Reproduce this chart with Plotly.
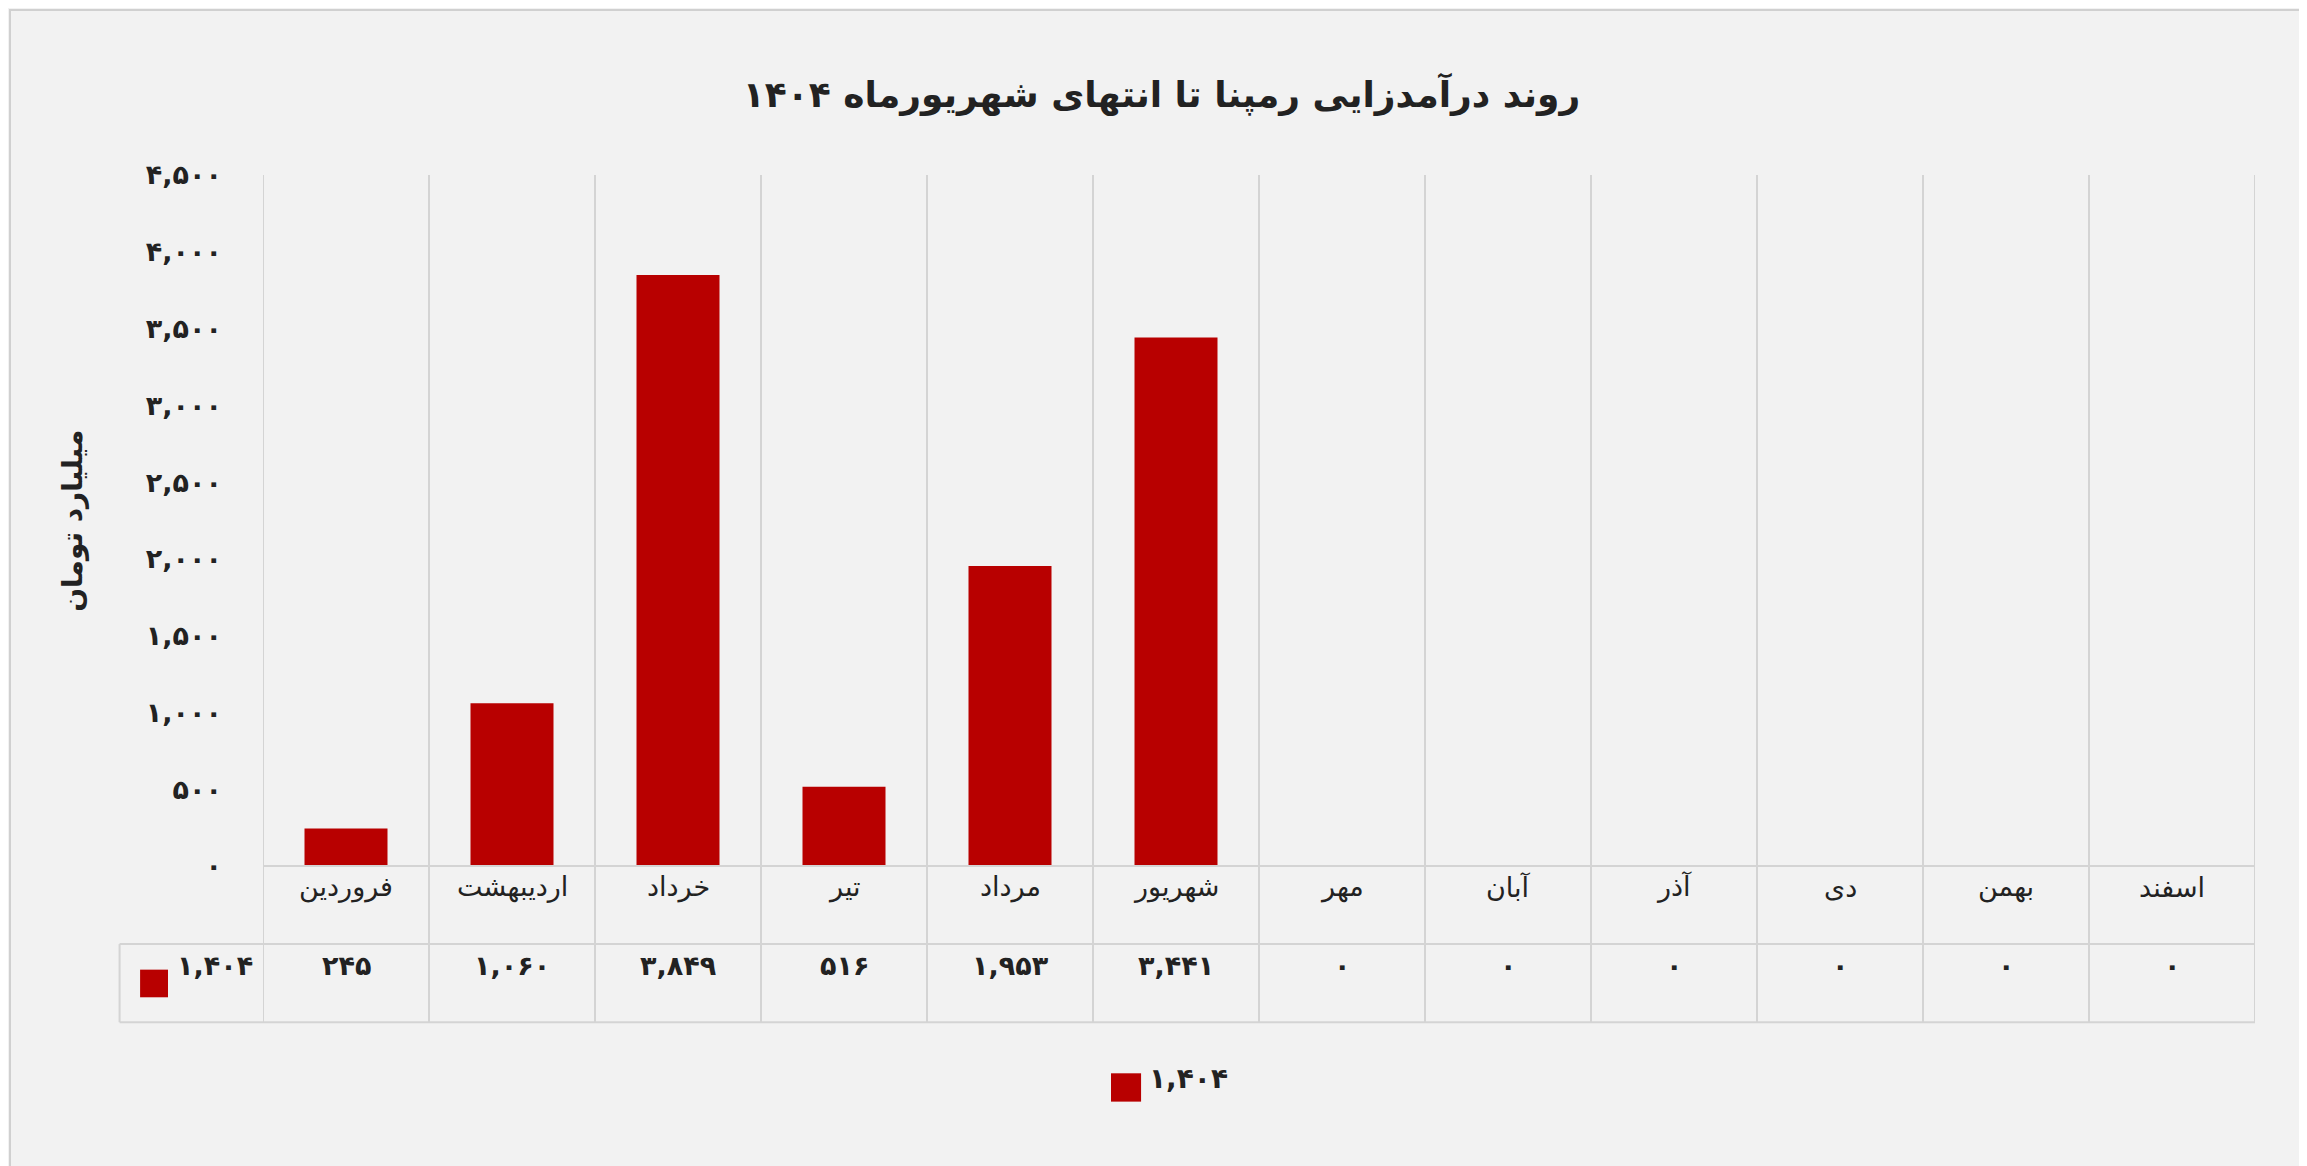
import plotly.graph_objects as go

months = ["فروردین", "اردیبهشت", "خرداد", "تیر", "مرداد", "شهریور", "مهر", "آبان", "آذر", "دی", "بهمن", "اسفند"]
values = [245, 1060, 3849, 516, 1953, 3441, 0, 0, 0, 0, 0, 0]
series_name = "۱,۴۰۴"
ytick_vals = [0, 500, 1000, 1500, 2000, 2500, 3000, 3500, 4000, 4500]

def fa(n):
    s = f"{n:,}"
    return s.translate(str.maketrans("0123456789", "۰۱۲۳۴۵۶۷۸۹"))

FONT = "DejaVu Sans"
RED = "#b80000"
GRID = "#d4d4d4"
L, R, T, B = 255, 60, 167, 308
PW, PH = 2307 - L - R, 1166 - T - B
x = list(range(len(months)))

fig = go.Figure()
fig.add_trace(go.Bar(x=x, y=values, width=0.5, name=series_name,
                     marker=dict(color=RED, line=dict(width=0)), showlegend=False))

shapes = []
for i in range(len(months) + 1):
    xv = i - 0.5
    shapes.append(dict(type="line", xref="x", yref="paper", x0=xv, x1=xv, y0=-0.226, y1=1,
                       line=dict(color=GRID, width=2), layer="below"))
shapes.append(dict(type="line", xref="paper", yref="paper", x0=0, x1=1, y0=0, y1=0, line=dict(color=GRID, width=2)))
shapes.append(dict(type="line", xref="paper", yref="paper", x0=-0.072, x1=1, y0=-0.113, y1=-0.113, line=dict(color=GRID, width=2)))
shapes.append(dict(type="line", xref="paper", yref="paper", x0=-0.072, x1=1, y0=-0.226, y1=-0.226, line=dict(color=GRID, width=2)))
shapes.append(dict(type="line", xref="paper", yref="paper", x0=-0.072, x1=-0.072, y0=-0.113, y1=-0.226, line=dict(color=GRID, width=2)))
shapes.append(dict(type="rect", xref="paper", yref="paper", x0=-0.0617, x1=-0.0477, y0=-0.190, y1=-0.150,
                   fillcolor=RED, line=dict(width=0)))
shapes.append(dict(type="rect", xref="paper", yref="paper", x0=0.4257, x1=0.4408, y0=-0.341, y1=-0.300,
                   fillcolor=RED, line=dict(width=0)))
shapes.append(dict(type="rect", xref="paper", yref="paper", x0=-(L - 2) / PW, x1=1 + (R - 2) / PW,
                   y0=-(B - 2) / PH, y1=1 + (T - 2) / PH,
                   line=dict(color="#d0d0d0", width=2), fillcolor="rgba(0,0,0,0)"))

ann = []
for i, m in enumerate(months):
    ann.append(dict(x=i, y=-0.0565, xref="x", yref="paper", text=m, showarrow=False,
                    font=dict(family=FONT, size=27, color="#222")))
    ann.append(dict(x=i, y=-0.1695, xref="x", yref="paper", text="<b>" + fa(values[i]) + "</b>", showarrow=False,
                    font=dict(family=FONT, size=27, color="#222")))
ann.append(dict(x=-0.044, y=-0.1695, xref="paper", yref="paper", text="<b>" + series_name + "</b>", showarrow=False,
                xanchor="left", font=dict(family=FONT, size=27, color="#222")))
ann.append(dict(x=0.444, y=-0.335, xref="paper", yref="paper", text="<b>" + series_name + "</b>", showarrow=False,
                xanchor="left", font=dict(family=FONT, size=28, color="#222")))
ann.append(dict(x=-0.105, y=0.5, xref="paper", yref="paper", text="<b>میلیارد تومان</b>", textangle=-90,
                showarrow=False, font=dict(family=FONT, size=28, color="#222")))

fig.update_layout(
    width=2307, height=1166,
    paper_bgcolor="#f2f2f2", plot_bgcolor="#f2f2f2",
    margin=dict(l=L, r=R, t=T, b=B),
    title=dict(text="<b>روند درآمدزایی رمپنا تا انتهای شهریورماه ۱۴۰۴</b>", x=0.5, xanchor="center", y=0.937,
               font=dict(family=FONT, size=36, color="#222")),
    xaxis=dict(range=[-0.5, 11.5], showticklabels=False, showgrid=False, zeroline=False, fixedrange=True),
    yaxis=dict(range=[0, 4500], tickvals=ytick_vals, ticktext=["<b>" + fa(v) + "</b>" for v in ytick_vals],
               showgrid=False, zeroline=False, tickfont=dict(family=FONT, size=27, color="#222"),
               ticklabelstandoff=40),
    shapes=shapes, annotations=ann, bargap=0.5,
)
fig.write_html("out.html")
